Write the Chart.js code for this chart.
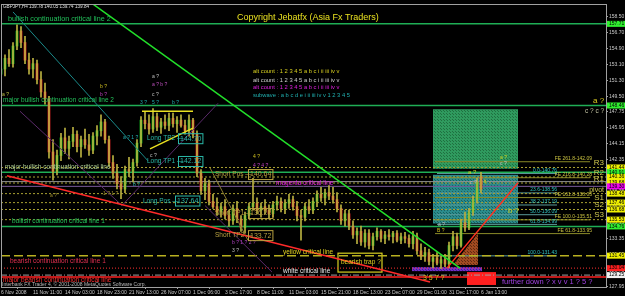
<!DOCTYPE html>
<html>
<head>
<meta charset="utf-8">
<script src="https://cdn.jsdelivr.net/npm/chart.js@4.4.0/dist/chart.umd.min.js"></script>
<style>
html, body { margin: 0; padding: 0; background: #000; }
</style>
</head>
<body>
<canvas id="fxChart" width="625" height="296"></canvas>
<script>
// GBPJPY H4, one bar here stands for two H4 bars
const opens = [152.0,152.6,153.8,153.2,155.2,156.9,155.6,153.6,152.6,153.2,
  151.4,150.0,149.2,143.2,141.0,142.8,144.8,143.6,144.4,145.2,
  143.8,144.6,144.0,143.4,145.0,145.6,146.6,144.6,142.0,140.8,
  139.6,139.0,141.2,141.0,142.0,144.2,146.8,146.4,145.8,147.2,
  146.0,146.6,146.2,147.0,146.4,146.8,146.2,145.6,146.8,145.2,
  140.8,138.8,139.6,137.6,137.0,136.4,137.0,136.0,135.4,136.8,
  135.6,134.6,136.0,137.0,137.4,136.6,137.0,136.6,136.2,137.2,
  137.6,136.8,137.4,137.8,137.0,136.0,135.8,137.0,136.6,137.6,
  138.4,138.0,138.6,138.2,137.8,136.8,135.4,136.2,134.8,133.8,
  134.2,133.0,134.0,132.6,133.6,134.2,133.4,133.8,133.6,134.0,
  133.2,133.6,133.4,132.8,133.6,132.0,131.4,131.8,130.8,131.2,
  130.6,131.0,130.5,132.6,133.6,132.6,135.2,134.6,136.4,137.8,
  140.4,139.78];
const highs = [153.0,154.2,154.8,155.6,157.6,157.4,156.3,154.4,153.8,153.6,
  152.3,151.0,149.5,144.6,143.4,145.3,145.9,145.0,146.0,145.6,
  145.0,145.8,145.2,145.4,146.2,147.4,146.9,145.0,142.8,141.8,
  140.4,141.6,142.6,142.4,144.6,147.2,147.8,147.4,148.1,147.6,
  147.0,147.4,147.6,147.6,147.2,147.4,146.8,147.4,147.0,145.6,
  141.2,140.2,140.0,138.4,138.0,137.4,137.8,136.6,137.2,137.6,
  136.0,136.4,137.4,140.2,138.0,137.4,137.8,137.2,137.6,138.2,
  138.0,137.8,138.4,138.2,137.6,136.6,137.4,137.8,138.0,138.8,
  139.2,139.0,139.4,139.2,138.6,137.2,136.6,136.6,135.4,134.6,
  134.8,134.4,134.4,134.0,134.6,134.4,134.2,134.4,134.2,134.3,
  134.0,134.1,133.8,134.2,134.0,132.8,132.4,132.2,131.6,131.8,
  131.4,131.6,133.0,134.2,134.0,135.6,136.4,136.8,138.2,140.2,
  140.9,140.05];
const lows = [151.2,151.8,152.9,152.8,154.8,155.0,153.2,152.0,151.6,150.9,
  149.4,148.6,142.5,140.0,140.6,142.2,143.0,142.4,143.8,143.2,
  142.6,143.6,142.8,143.0,144.0,145.0,144.2,141.6,140.2,139.0,
  137.9,138.6,140.4,139.8,141.6,143.8,145.8,145.2,145.4,145.6,
  145.3,145.8,145.6,146.0,145.4,146.0,145.2,145.0,144.8,140.4,
  138.4,137.8,137.2,136.8,136.0,135.8,135.6,134.8,135.0,135.2,
  134.2,134.0,135.6,136.6,136.2,135.8,136.2,135.6,135.8,136.6,
  136.4,136.2,136.8,136.6,135.4,133.2,135.4,136.2,136.2,137.0,
  137.6,137.2,137.8,137.4,136.4,135.0,134.8,134.4,133.4,132.8,
  132.6,132.4,132.2,132.1,133.2,133.0,132.8,133.2,132.9,133.0,
  132.8,132.9,132.4,132.2,131.6,131.0,130.8,130.4,130.1,130.4,
  130.0,130.2,130.1,132.0,132.2,132.4,134.2,134.4,136.0,137.4,
  138.6,139.74];
const closes = [152.6,153.8,153.2,155.2,156.9,155.6,153.6,152.6,153.2,151.4,
  150.0,149.2,143.2,141.0,142.8,144.8,143.6,144.4,145.2,143.8,
  144.6,144.0,143.4,145.0,145.6,146.6,144.6,142.0,140.8,139.6,
  139.0,141.2,141.0,142.0,144.2,146.8,146.4,145.8,147.2,146.0,
  146.6,146.2,147.0,146.4,146.8,146.2,145.6,146.8,145.2,140.8,
  138.8,139.6,137.6,137.0,136.4,137.0,136.0,135.4,136.8,135.6,
  134.6,136.0,137.0,137.4,136.6,137.0,136.6,136.2,137.2,137.6,
  136.8,137.4,137.8,137.0,136.0,135.8,137.0,136.6,137.6,138.4,
  138.0,138.6,138.2,137.8,136.8,135.4,136.2,134.8,133.8,134.2,
  133.0,134.0,132.6,133.6,134.2,133.4,133.8,133.6,134.0,133.2,
  133.6,133.4,132.8,133.6,132.0,131.4,131.8,130.8,131.2,130.6,
  131.0,130.5,132.6,133.6,132.6,135.2,134.6,136.4,137.8,139.8,
  139.0,139.84];

const xTickLabels = ["6 Nov 2008","11 Nov 11:00","14 Nov 03:00","18 Nov 23:00","21 Nov 13:00",
  "26 Nov 07:00","1 Dec 06:00","3 Dec 17:00","8 Dec 11:00","11 Dec 03:00","15 Dec 21:00",
  "18 Dec 13:00","23 Dec 07:00","29 Dec 01:00","31 Dec 17:00","6 Jan 13:00"];
const yTickValues = [158.50,156.70,154.90,153.10,151.30,149.50,147.75,145.95,144.15,142.35,
  140.55,138.75,136.95,135.15,133.35,131.55,129.75,127.95];

// levels
const greenLevels = [157.71, 148.46, 140.91, 134.76];
const pivotNames = ["R3","R2","R1","pivot","S1","S2","S3"];
const pivotLevels = [141.44, 140.36, 139.68, 138.48, 137.46, 136.68, 135.53];
const yellowCritical = 131.45;
const whiteCritical = 130.04;
const greyDashLevel = 129.25;
const majorBearLevel = 129.03;
const magentaCritical = 139.30;
const bidPrice = 139.84;
const feRatios = ["61.8","100.0","161.8","216.8","261.8"];
const feLevels = [133.95, 135.51, 138.03, 140.28, 142.09];
const retRatios = ["0.0","23.6","38.2","50.0","61.8","100.0"];
const retLevels = [140.76, 138.56, 137.19, 136.09, 134.99, 131.43];
const tradeNames = ["Long TP2","Long TP1","Long Pos","Short Pos","Short TP1","Short TP2"];
const tradeLevels = [144.70, 142.12, 137.64, 140.64, 136.22, 133.72];

const X_MAX = 151.25;
const FONT = "'Liberation Sans', Arial, sans-serif";

function hLine(y, color, width, dash, x0, x1, order) {
  return { type: 'line', data: [{x: x0 === undefined ? 0 : x0, y: y}, {x: x1 === undefined ? X_MAX : x1, y: y}],
    borderColor: color, borderWidth: width, borderDash: dash || [], pointRadius: 0, order: order || 2 };
}
function seg(a, b, color, width, dash) {
  return { type: 'line', data: [{x: a[0], y: a[1]}, {x: b[0], y: b[1]}],
    borderColor: color, borderWidth: width, borderDash: dash || [], pointRadius: 0, order: 0 };
}

const datasets = [];
greenLevels.forEach(v => datasets.push(hLine(v, '#1fae55', 1.5)));
pivotLevels.forEach(v => datasets.push(hLine(v, '#a8a032', 1, [2, 2])));
datasets.push(hLine(yellowCritical, '#b8b020', 1.5, [9, 4]));
datasets.push(hLine(whiteCritical, '#ff3030', 1, [1, 2]));
datasets.push(hLine(greyDashLevel, '#a0a0a0', 1, [6, 2, 1, 2]));
datasets.push(hLine(majorBearLevel, '#ff2020', 1.5));
datasets.push(hLine(magentaCritical, '#7a5a98', 1));
datasets.push(hLine(bidPrice, '#909090', 1));
feLevels.forEach(v => datasets.push(hLine(v, '#8a8a28', 1, [], 108.5, 147.25)));
retLevels.forEach(v => datasets.push(hLine(v, '#5a9a9a', 1, [], 109, 139)));

// candles
datasets.push({ type: 'bar', data: highs.map((h, i) => ({x: i, y: [lows[i], h]})),
  backgroundColor: '#b8b040', barThickness: 1, grouped: false, order: 1 });
datasets.push({ type: 'bar', data: opens.map((o, i) => ({x: i, y: [Math.min(o, closes[i]), Math.max(o, closes[i])]})),
  backgroundColor: opens.map((o, i) => closes[i] >= o ? '#10d020' : '#ff2a2a'),
  barThickness: 2, minBarLength: 1, grouped: false, order: 1 });

// trend lines
datasets.push(seg([22.25, 160.19], [114.75, 130.04], '#22e02a', 1.5));
datasets.push(seg([3, 159.06], [36.75, 142.19], '#1a8a8a', 1));
datasets.push(seg([1.5, 140.5], [107.25, 128.47], '#ff2a2a', 1.5));
datasets.push(seg([111.5, 130.04], [129.25, 139.72], '#ff3020', 1.5));
datasets.push(seg([35.25, 147.81], [48, 147.81], '#e8e020', 1.5));
datasets.push(seg([37.25, 143.54], [48, 145.9], '#e8e020', 1.5));
datasets.push(seg([52.25, 141.4], [61.75, 133.19], '#8a7a30', 1));
datasets.push(seg([4.75, 147.81], [30.25, 137.13], '#5a2a6a', 1));
datasets.push(seg([30.25, 137.13], [54.25, 148.71], '#5a2a6a', 1));
datasets.push(seg([51, 137.13], [67.75, 129.59], '#5a2a6a', 1));

const notes = [
  ["bullish continuation critical line 2", 1.75, 158.28, '#22c05a', 7.2],
  ["major bullish continuation critical line 2", 0.5, 149.05, '#22c05a', 6.5],
  ["major bullish continuation critical line", 1, 141.51, '#a8c890', 6.5],
  ["bullish continuation critical line 1", 2.75, 135.33, '#22c05a', 6.5],
  ["bearish continuation critical line 1", 2.25, 130.83, '#e03050', 6.5],
  ["major bearish continuation critical line", 0.5, 128.69, '#ff3030', 6.5],
  ["Interbank FX Trader 4, \u00a9 2001-2008 MetaQuotes Software Corp.", 0.25, 128.13, '#b8b8b8', 5],
  ["GBPJPY,H4 139.78 140.05 139.74 139.84", 0.5, 159.62, '#e0e0e0', 4.6],
  ["Copyright Jebatfx (Asia Fx Traders)", 59, 158.39, '#e8e020', 9],
  ["alt count : 1 2 3 4 5 a b c i ii iii iv v", 63, 152.31, '#d8d020', 5.8],
  ["alt count : 1 2 3 4 5 a b c i ii iii iv v", 63, 151.30, '#d0d0d0', 5.8],
  ["alt count : 1 2 3 4 5 a b c i ii iii iv v", 63, 150.51, '#e020e0', 5.8],
  ["subwave : a b c d e i ii iii iv v 1 2 3 4 5", 63, 149.61, '#20b0b0', 5.8],
  ["magenta critical line", 68.75, 139.71, '#e020e0', 6.5],
  ["yellow critical line", 70.5, 131.84, '#e0d020', 6.5],
  ["white critical line", 70.5, 129.70, '#e8e8e8', 6.5],
  ["bearish trap ?", 85, 130.71, '#e0d020', 6.5],
  ["further down ? x v v 1 ? 5 ?", 125.25, 128.47, '#a040e0', 7.5],
  ["a ?", 37.75, 151.75, '#c0c0c0', 5], ["a ? b ?", 37.75, 150.85, '#c050c0', 5],
  ["c ?", 37.75, 149.73, '#c0c0c0', 5], ["b ?", 24.75, 150.63, '#d0c020', 5],
  ["b ?", 24.75, 149.73, '#c040c0', 5], ["a ?", 0.25, 149.73, '#c0c040', 5],
  ["3 ?", 34.75, 148.83, '#20b0b0', 5], ["5 ?", 37.75, 148.83, '#20b0b0', 5],
  ["b ?", 42.75, 148.83, '#20b0b0', 5], ["a ? 1 ?", 30.5, 144.78, '#20b0b0', 5],
  ["c ?", 37.25, 142.75, '#c0c0c0', 5], ["b ?", 33, 139.49, '#20b0b0', 5],
  ["a ?", 12.25, 138.25, '#a09030', 5], ["1 ? 1 ?", 25.5, 138.48, '#a09030', 5],
  ["4 ?", 63, 142.64, '#d0c020', 5], ["4 ? 4 ?", 63, 141.63, '#c040c0', 5],
  ["b ? 1 ? 2 ?", 57.75, 132.96, '#b040c0', 5], ["3 ?", 57.75, 132.06, '#c0c0c0', 5],
  ["a ?", 148, 148.94, '#e0d020', 8], ["c ? c ?", 146, 147.81, '#c0c0a0', 6.5],
  ["a ?", 124.75, 142.53, '#d0d020', 5], ["c ?", 124.75, 141.85, '#c0c0c0', 5],
  ["a ?", 116.75, 140.84, '#d0d020', 6], ["c ?", 117.25, 139.71, '#c0c0c0', 5],
  ["a ?", 109.25, 134.99, '#c0c0c0', 5], ["B ?", 109, 134.31, '#d0c020', 5],
  ["b ?", 126.75, 136.56, '#d0d020', 8], ["3 5 7 ?", 105.5, 128.91, '#d0c020', 7]
];
const tradeTextIdx = [36.5, 36.5, 35.5, 53.5, 53.5, 53.5];
const tradeBoxIdx = [44.75, 44.75, 44, 62.25, 62.25, 62.25];
const axisTags = [
  [157.71, '#30f030'], [148.46, '#30f030'], [141.44, '#f0f000'], [140.91, '#30f030'],
  [140.36, '#f0f000'], [139.68, '#f0f000'], [139.30, '#f000f0'], [138.48, '#f0f000'],
  [137.46, '#f0f000'], [136.68, '#f0f000'], [135.53, '#f0f000'], [134.76, '#30f030'],
  [131.45, '#f0f000'], [130.04, '#ff2020'], [129.25, '#f0f0f0']
];

function dots(ctx, base, dot) {
  const c = document.createElement('canvas');
  c.width = 3; c.height = 3;
  const g = c.getContext('2d');
  g.fillStyle = base; g.fillRect(0, 0, 3, 3);
  g.fillStyle = dot; g.fillRect(0, 0, 1, 1); g.fillRect(2, 2, 1, 1);
  return ctx.createPattern(c, 'repeat');
}
function text(ctx, s, x, y, color, size, align, base) {
  ctx.font = size + 'px ' + FONT;
  ctx.fillStyle = color;
  ctx.textAlign = align || 'left';
  ctx.textBaseline = base || 'middle';
  ctx.fillText(s, x, y);
}

const overlay = {
  id: 'overlay',
  beforeDatasetsDraw(chart) {
    const ctx = chart.ctx, sx = chart.scales.x, sy = chart.scales.y;
    const X = v => sx.getPixelForValue(v), Y = v => sy.getPixelForValue(v);
    ctx.save();
    const rect = (x0, x1, y0, y1, fill) => { ctx.fillStyle = fill; ctx.fillRect(X(x0), Y(y0), X(x1) - X(x0), Y(y1) - Y(y0)); };
    rect(108, 129.25, 148.04, 141.29, dots(ctx, '#2f9a5e', '#1f7040'));
    rect(108, 129.25, 140.61, 135.10, dots(ctx, '#2a8c8c', '#1a6060'));
    rect(102.75, 120.25, 130.15, 129.70, dots(ctx, '#7030c8', '#4a1a90'));
    rect(116.5, 123.75, 129.59, 128.13, '#ff2020');
    ctx.fillStyle = dots(ctx, '#a04a20', '#602a10');
    ctx.beginPath();
    ctx.moveTo(X(113), Y(130.38)); ctx.lineTo(X(119.25), Y(133.98)); ctx.lineTo(X(119.25), Y(130.38));
    ctx.closePath(); ctx.fill();
    ctx.strokeStyle = '#d8d020'; ctx.lineWidth = 1.2;
    ctx.strokeRect(X(84.25), Y(131.73), X(95.25) - X(84.25), Y(129.59) - Y(131.73));
    ctx.restore();
  },
  afterDatasetsDraw(chart) {
    const ctx = chart.ctx, sx = chart.scales.x, sy = chart.scales.y;
    const X = v => sx.getPixelForValue(v), Y = v => sy.getPixelForValue(v);
    ctx.save();
    notes.forEach(n => text(ctx, n[0], X(n[1]), Y(n[2]), n[3], n[4]));
    pivotNames.forEach((n, i) => text(ctx, n, chart.chartArea.right - 2, Y(pivotLevels[i]) - 0.5,
      '#d0c850', n === 'pivot' ? 7 : 8, 'right', 'bottom'));
    feLevels.forEach((v, i) => text(ctx, 'FE ' + feRatios[i] + '-' + v.toFixed(2), X(147.75), Y(v) - 0.5, '#c8c040', 5, 'right', 'bottom'));
    retLevels.forEach((v, i) => text(ctx, retRatios[i] + '-' + v.toFixed(2), X(139), Y(v) - 0.5, '#30c0c0', 5, 'right', 'bottom'));
    tradeNames.forEach((n, i) => {
      const col = n.startsWith('Long') ? '#2ab8a8' : '#b8a040';
      const y = Y(tradeLevels[i]);
      text(ctx, n + ' \u2014', X(tradeTextIdx[i]), y, col, 6.5);
      const bx = X(tradeBoxIdx[i]);
      ctx.font = '7px ' + FONT;
      const w = ctx.measureText(tradeLevels[i].toFixed(2)).width;
      ctx.strokeStyle = col; ctx.lineWidth = 1;
      ctx.strokeRect(bx - 1.5, y - 5, w + 3, 10);
      text(ctx, tradeLevels[i].toFixed(2), bx, y, col, 7);
    });
    ctx.restore();
  },
  afterDraw(chart) {
    const ctx = chart.ctx, sy = chart.scales.y, a = chart.chartArea;
    ctx.save();
    ctx.strokeStyle = '#a0a0a0'; ctx.lineWidth = 1;
    ctx.strokeRect(a.left + 0.5, a.top + 0.5, a.right - a.left, a.bottom - a.top);
    axisTags.forEach(t => {
      const y = sy.getPixelForValue(t[0]);
      ctx.fillStyle = t[1];
      ctx.fillRect(a.right + 1, y - 3, 19, 6);
      text(ctx, t[0].toFixed(2), a.right + 3, y, '#000', 5);
    });
    ctx.restore();
  }
};

new Chart(document.getElementById('fxChart'), {
  type: 'bar',
  data: { datasets: datasets },
  options: {
    responsive: false,
    animation: false,
    events: [],
    layout: { padding: { top: 2, left: 1, right: 0, bottom: 0 } },
    plugins: { legend: { display: false }, tooltip: { enabled: false } },
    scales: {
      x: {
        type: 'linear', min: 0, max: X_MAX, offset: false,
        afterFit: s => { s.height = 9; },
        afterBuildTicks: s => { s.ticks = xTickLabels.map((_, k) => ({ value: 8 * k })); },
        ticks: { autoSkip: false, maxRotation: 0, align: 'start', padding: 1,
          color: '#c8c8c8', font: { size: 5, family: FONT },
          callback: (v, i) => xTickLabels[i] },
        grid: { display: true, drawOnChartArea: false, drawTicks: true, tickLength: 2, color: '#a0a0a0' },
        border: { display: true, color: '#a0a0a0' }
      },
      y: {
        position: 'right', min: 127.9, max: 159.96,
        afterFit: s => { s.width = 19; },
        afterBuildTicks: s => { s.ticks = yTickValues.map(v => ({ value: v })); },
        ticks: { padding: 1, color: '#c8c8c8', font: { size: 5, family: FONT },
          callback: v => v.toFixed(2) },
        grid: { display: true, drawOnChartArea: false, drawTicks: true, tickLength: 2, color: '#a0a0a0' },
        border: { display: true, color: '#a0a0a0' }
      }
    }
  },
  plugins: [overlay]
});
</script>
</body>
</html>
